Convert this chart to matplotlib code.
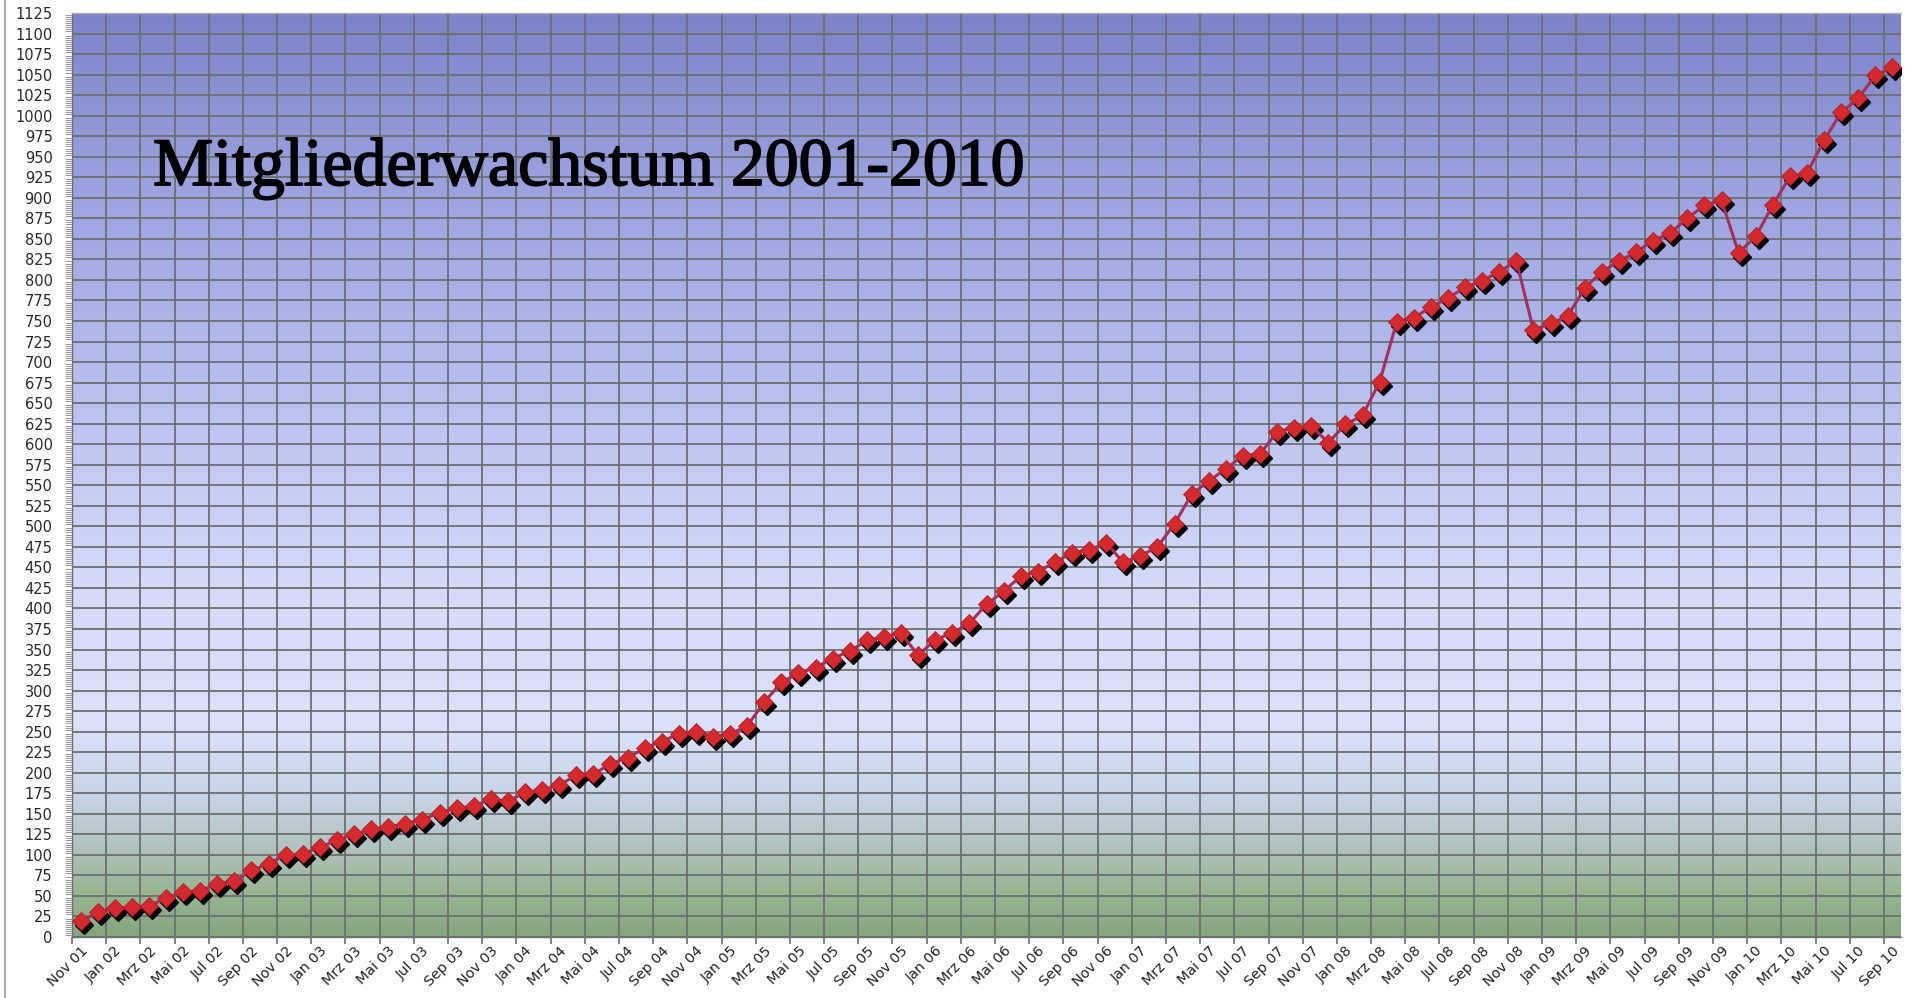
import matplotlib
matplotlib.use("Agg")
import matplotlib.pyplot as plt
import matplotlib.transforms as mtransforms
import matplotlib.patheffects as pe
from matplotlib.colors import LinearSegmentedColormap
from matplotlib.lines import Line2D
import numpy as np

# ---------------- data ----------------
title = "Mitgliederwachstum 2001-2010"
month_names = ["Jan", "Feb", "Mrz", "Apr", "Mai", "Jun",
               "Jul", "Aug", "Sep", "Okt", "Nov", "Dez"]
start_year, start_month = 2001, 11   # Nov 01
members = [19, 30, 35, 36, 38, 47, 55, 56, 65, 68, 81, 89, 100, 101, 109, 118,
           125, 131, 134, 138, 143, 151, 157, 159, 168, 165, 176, 179, 185, 197,
           198, 211, 218, 230, 238, 247, 250, 244, 247, 257, 286, 310, 321, 328,
           339, 348, 361, 365, 370, 343, 362, 370, 382, 405, 421, 439, 445, 456,
           468, 471, 480, 456, 464, 475, 503, 539, 555, 570, 586, 588, 615, 620,
           622, 602, 624, 635, 676, 749, 754, 767, 778, 791, 799, 810, 823, 739,
           747, 756, 790, 810, 823, 834, 848, 857, 875, 891, 897, 833, 853, 891,
           926, 930, 970, 1004, 1021, 1049, 1059]
y_ticks = list(range(0, 1126, 25))

# month labels
labels = []
for i in range(len(members)):
    m = (start_month - 1 + i) % 12
    y = start_year + (start_month - 1 + i) // 12
    labels.append(f"{month_names[m]} {y % 100:02d}")

# ---------------- figure ----------------
W, H, DPI = 1914, 998, 100
fig = plt.figure(figsize=(W / DPI, H / DPI), dpi=DPI)
fig.patch.set_facecolor("white")

left, right, top, bottom = 72, 1901, 13, 937
ax = fig.add_axes([left / W, 1 - bottom / H, (right - left) / W, (bottom - top) / H])

n = len(members)
x = np.arange(n)
ax.set_xlim(-0.5, n - 0.5)
ax.set_ylim(0, 1125)

# gradient background
cmap = LinearSegmentedColormap.from_list("bg", [
    (0.00, "#84a67c"),
    (0.05, "#9ab694"),
    (0.10, "#b2c4c2"),
    (0.15, "#c8d3e6"),
    (0.23, "#dbe1fb"),
    (0.38, "#d4daf8"),
    (0.60, "#b8beee"),
    (0.82, "#9aa1de"),
    (1.00, "#7c83c8"),
])
grad = np.linspace(0, 1, 512).reshape(-1, 1)
ax.imshow(grad, cmap=cmap, aspect="auto", origin="lower",
          extent=(-0.5, n - 0.5, 0, 1125), zorder=0, interpolation="bicubic")

# grid
grid_color = "#6a7070"
ax.set_yticks(y_ticks)
ax.set_yticklabels([str(v) for v in y_ticks], fontsize=10.5, color="#2a2a2a",
                   family="DejaVu Sans")
ax.yaxis.grid(True, color=grid_color, linewidth=1.3, zorder=1)
ax.set_yticks(np.arange(0, 1126, 2.5), minor=True)
ax.tick_params(axis="y", which="major", length=0, pad=14)
ax.tick_params(axis="y", which="minor", length=5, width=0.6, color="#8a8a8a")

ax.set_xticks(x[::2])
ax.set_xticklabels(labels[::2], rotation=45, ha="right", va="top",
                   rotation_mode="anchor", fontsize=10.3, color="#222222",
                   family="DejaVu Sans")
ax.set_xticks(np.arange(-0.5, n, 2), minor=True)
ax.tick_params(axis="x", which="major", length=0, pad=5)
ax.tick_params(axis="x", which="minor", length=5, width=1.2, color=grid_color)
ax.xaxis.grid(True, which="minor", color=grid_color, linewidth=1.3, zorder=1)
ax.xaxis.grid(False, which="major")
ax.set_axisbelow(True)

for s in ax.spines.values():
    s.set_color(grid_color)
    s.set_linewidth(1.0)
ax.spines["top"].set_color("#b0b0b0")
ax.spines["right"].set_visible(False)

# shadows, line and markers
shadow_tr = mtransforms.offset_copy(ax.transData, fig=fig, x=3, y=-4, units="dots")
ax.plot(x, members, linestyle="none", marker="D", markersize=9.5,
        color="black", transform=shadow_tr, zorder=3)
ax.plot(x, members, color="#a3305c", linewidth=2.2, zorder=4)
ax.plot(x, members, linestyle="none", marker="D", markersize=9.5,
        markerfacecolor="#d42a2e", markeredgecolor="#b01e28", markeredgewidth=0.6,
        zorder=5)

# title inside the chart
fig.text(153 / W, 1 - 185 / H, title, fontsize=48.8, family="Liberation Serif",
         color="black", ha="left", va="baseline",
         path_effects=[pe.withStroke(linewidth=1.3, foreground="black")])

# outer left border of the chart area
fig.add_artist(Line2D([5 / W, 5 / W], [0, 1], color="#9a9a9a", linewidth=1.2,
                      transform=fig.transFigure))

fig.savefig("out.png", dpi=DPI, facecolor="white")
